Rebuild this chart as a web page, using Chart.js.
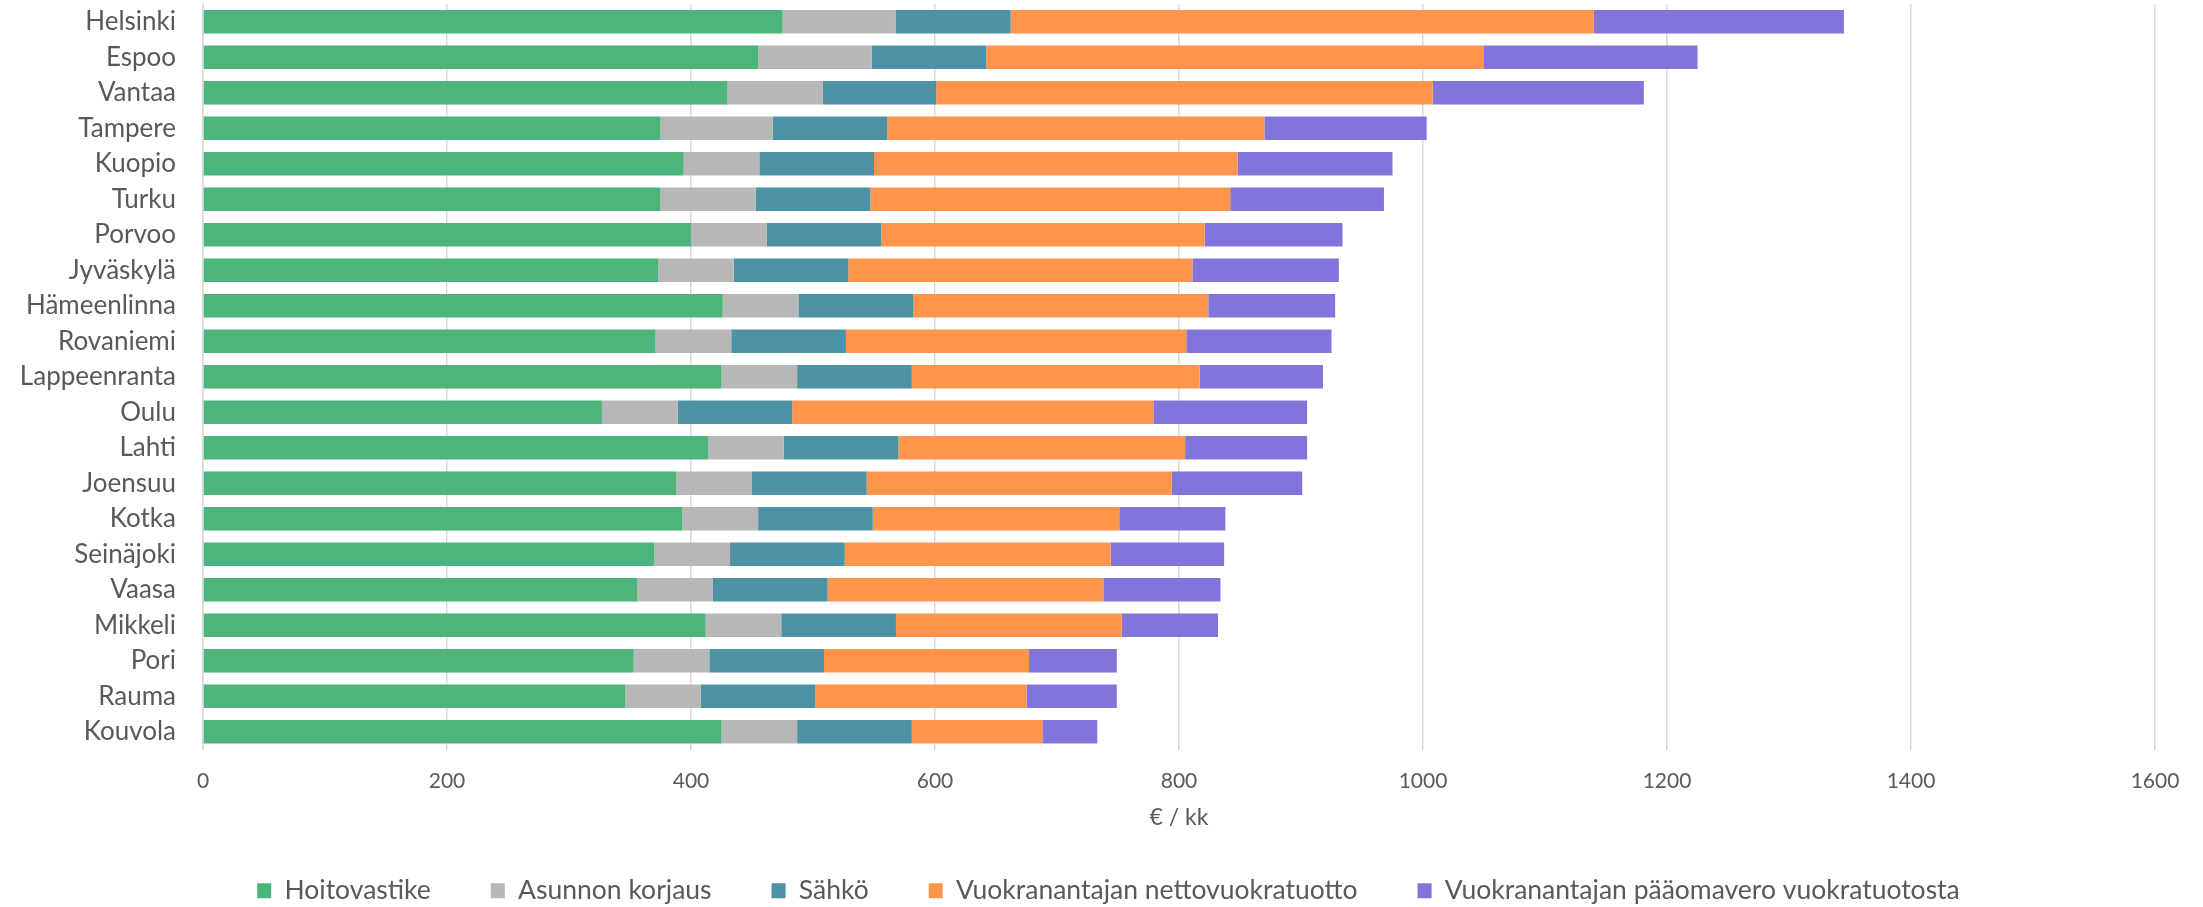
<!DOCTYPE html>
<html>
<head>
<meta charset="utf-8">
<script src="https://cdn.jsdelivr.net/npm/chart.js@4/dist/chart.umd.min.js"></script>
<style>
html,body{margin:0;padding:0;background:#fff;}
#wrap{width:2203px;height:907px;}
</style>
</head>
<body>
<div id="wrap"><canvas id="c" width="2203" height="907"></canvas></div>
<script>
const cities = ["Helsinki","Espoo","Vantaa","Tampere","Kuopio","Turku","Porvoo","Jyväskylä","Hämeenlinna","Rovaniemi","Lappeenranta","Oulu","Lahti","Joensuu","Kotka","Seinäjoki","Vaasa","Mikkeli","Pori","Rauma","Kouvola"];
const hoitovastike = [475,455,430,375,394,375,400,373,426,371,425,327,414,388,393,370,356,412,353,346,425];
const asunnonKorjaus = [93,93,78,92,62,78,62,62,62,62,62,62,62,62,62,62,62,62,62,62,62];
const sahko = [94,94,93,94,94,94,94,94,94,94,94,94,94,94,94,94,94,94,94,94,94];
const nettovuokratuotto = [478,408,407,309,298,295,265,282,242,279,236,296,235,250,202,218,226,185,168,173,107];
const paaomavero = [205,175,173,133,127,126,113,120,104,119,101,126,100,107,87,93,96,79,72,74,45];
const seriesNames = ["Hoitovastike","Asunnon korjaus","Sähkö","Vuokranantajan nettovuokratuotto","Vuokranantajan pääomavero vuokratuotosta"];
const seriesColors = ["#4db47b","#b7b7b7","#4d91a5","#ff954d","#8174da"];
const xTicks = [0,200,400,600,800,1000,1200,1400,1600];
const xTitle = "€ / kk";

const txt = "#595959";
const fam = "Lato, 'Open Sans', sans-serif";
const values = [hoitovastike, asunnonKorjaus, sahko, nettovuokratuotto, paaomavero];

const legendShift = {
  id: 'legendShift',
  afterLayout(chart) {
    if (chart.legend) { chart.legend.left += 31; chart.legend.right += 31; }
  }
};

new Chart(document.getElementById('c'), {
  type: 'bar',
  data: {
    labels: cities,
    datasets: values.map((v,i)=>({
      label: seriesNames[i],
      data: v,
      backgroundColor: seriesColors[i],
      borderWidth: 0,
      categoryPercentage: 1,
      barPercentage: 0.656
    }))
  },
  plugins: [legendShift],
  options: {
    indexAxis: 'y',
    responsive: false,
    devicePixelRatio: 1,
    animation: false,
    layout: { padding: { top: 4, left: 0, right: 48, bottom: -7 } },
    plugins: {
      legend: {
        position: 'bottom',
        align: 'center',
        labels: {
          boxWidth: 14, boxHeight: 15, padding: 60,
          color: txt,
          font: { family: fam, size: 26.5 }
        }
      },
      tooltip: { enabled: false }
    },
    scales: {
      x: {
        stacked: true,
        min: 0, max: 1600,
        afterBuildTicks: (s) => { s.ticks = xTicks.map(v => ({value: v})); },
        afterFit: (s) => { s.height = 68; },
        grid: { color: '#d9d9d9', lineWidth: 1.5, drawTicks: false },
        border: { display: false },
        ticks: { color: txt, padding: 19, font: { family: fam, size: 21 }, callback: (v) => String(v) },
        title: { display: true, text: xTitle, color: txt, font: { family: fam, size: 23 }, padding: { top: 0, bottom: -14 } }
      },
      y: {
        stacked: true,
        afterFit: (s) => { s.width = 203; s.paddingTop = 0; s.paddingBottom = 0; },
        grid: { display: false, drawTicks: false },
        border: { display: true, color: '#d9d9d9', width: 1.5 },
        ticks: { color: txt, padding: 27, font: { family: fam, size: 26 }, autoSkip: false }
      }
    }
  }
});
</script>
</body>
</html>
